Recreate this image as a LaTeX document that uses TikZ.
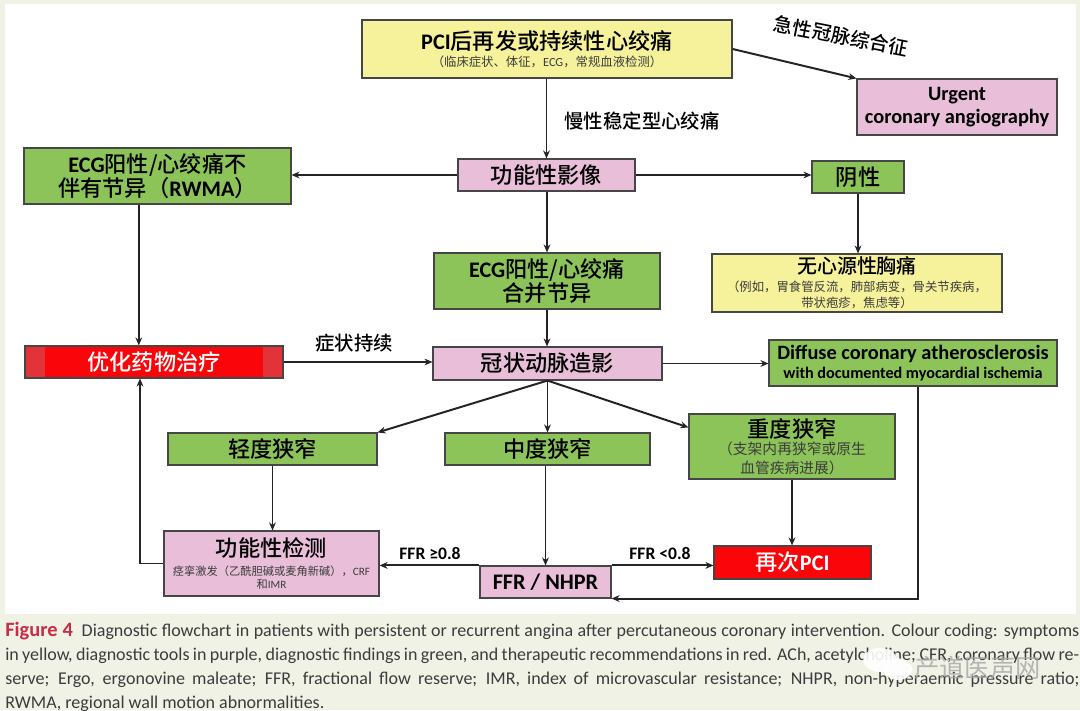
\documentclass[tikz,border=0pt]{standalone}
\usepackage{fontspec}
\setmainfont{Noto Sans CJK SC}[BoldFont={Noto Sans CJK SC Medium}]
\newfontfamily\latfont{Carlito}
\usetikzlibrary{arrows.meta, positioning, calc}
\definecolor{pagebeige}{RGB}{240, 242, 230}
\definecolor{symyellow}{RGB}{245, 242, 155}
\definecolor{toolpurple}{RGB}{232, 190, 216}
\definecolor{findgreen}{RGB}{140, 196, 90}
\definecolor{therred}{RGB}{250, 5, 10}
\definecolor{therside}{RGB}{226, 52, 56}
\definecolor{boxline}{RGB}{70, 70, 70}
\definecolor{linedark}{RGB}{35, 35, 40}
\definecolor{figred}{RGB}{200, 45, 70}
\definecolor{captext}{RGB}{60, 60, 60}
\tikzset{
  >=Stealth,
  flowarrow/.style={-{Stealth[length=2mm, width=1.7mm]}, line width=1.4pt, linedark}
}
\newcommand{\bigtxt}{\fontsize{15.8}{18}\selectfont\bfseries}
\newcommand{\midtxt}{\fontsize{14.5}{18}\selectfont\bfseries}
\newcommand{\subtxt}{\fontsize{8.8}{11}\selectfont\mdseries\color{captext}}
\newcommand{\lat}[1]{{\latfont #1}}
\begin{document}
\begin{tikzpicture}[
    yellowbox/.style={rectangle, draw=boxline, fill=symyellow, line width=0.8pt, font=\bigtxt, align=center, inner sep=0pt},
    purplebox/.style={rectangle, draw=boxline, fill=toolpurple, line width=0.8pt, font=\bigtxt, align=center, inner sep=0pt},
    greenbox/.style={rectangle, draw=boxline, fill=findgreen, line width=0.8pt, font=\bigtxt, align=center, inner sep=0pt},
    redbox/.style={rectangle, draw=boxline, fill=therred, line width=0.8pt, font=\bigtxt, text=white, align=center, inner sep=0pt},
    sidebands/.style={fill=therside, path picture={\fill[therred] ([xshift=0.5cm]path picture bounding box.south west) rectangle ([xshift=-0.5cm]path picture bounding box.north east);}},
    flowlabel/.style={font=\fontsize{13.8}{15}\selectfont\bfseries, inner sep=0pt}
]
    \useasboundingbox (0, 0) rectangle (27, 17.75);
    % Page ground and white panel
    \fill[pagebeige] (0, 0) rectangle (27, 17.75);
    \fill[white] (0.125, 2.4) rectangle (26.9, 17.65);

    % Top row
    \node[yellowbox, minimum width=9.25cm, minimum height=1.45cm] (symptom) at (13.675, 16.525) {\lat{PCI}后再发或持续性心绞痛\\[-6pt]{\subtxt （临床症状、体征，\lat{ECG}，常规血液检测）}};
    \node[purplebox, font=\midtxt, minimum width=5cm, minimum height=1.4cm] (urgent) at (23.925, 15.075) {\raisebox{-2pt}{\latfont\bfseries Urgent}\\[-1.5pt]\raisebox{-2pt}{\latfont\bfseries coronary angiography}};

    % Functional imaging row
    \node[purplebox, minimum width=4.425cm, minimum height=0.8cm] (imaging) at (13.6625, 13.375) {功能性影像};
    \node[greenbox, minimum width=6.675cm, minimum height=1.4cm] (ecgleft) at (3.9375, 13.35) {\lat{ECG}阳性/心绞痛不\\[-1pt]伴有节异（\lat{RWMA}）};
    \node[greenbox, minimum width=2.3cm, minimum height=0.8cm] (negative) at (21.45, 13.325) {阴性};

    % Findings row
    \node[greenbox, minimum width=5.65cm, minimum height=1.4cm] (ecgmid) at (13.675, 10.725) {\lat{ECG}阳性/心绞痛\\[-1pt]合并节异};
    \node[yellowbox, minimum width=7.25cm, minimum height=1.45cm] (noncardiac) at (21.425, 10.675) {{\fontsize{14.2}{15}\selectfont 无心源性胸痛}\\[-5.4pt]{\subtxt （例如，胃食管反流，肺部病变，骨关节疾病，}\\[-6.6pt]{\subtxt 带状疱疹，焦虑等）}};

    % Angiography row
    \node[redbox, sidebands, minimum width=6.45cm, minimum height=0.8cm] (medical) at (3.85, 8.7) {优化药物治疗};
    \node[purplebox, minimum width=5.725cm, minimum height=0.825cm] (angio) at (13.6875, 8.6625) {冠状动脉造影};
    \node[greenbox, font=\midtxt, minimum width=7.2cm, minimum height=1.15cm] (diffuse) at (22.825, 8.675) {\latfont\bfseries Diffuse coronary atherosclerosis\\[-4pt]{\latfont\bfseries\fontsize{11.5}{14}\selectfont with documented myocardial ischemia}};

    % Stenosis row
    \node[greenbox, minimum width=5.225cm, minimum height=0.8cm] (mild) at (6.8125, 6.525) {轻度狭窄};
    \node[greenbox, minimum width=5.125cm, minimum height=0.8cm] (moderate) at (13.6875, 6.525) {中度狭窄};
    \node[greenbox, minimum width=5.15cm, minimum height=1.625cm] (severe) at (19.8, 6.5875) {重度狭窄\\[-6pt]{\fontsize{10.5}{13}\selectfont\mdseries\color{captext}（支架内再狭窄或原生}\\[-4.2pt]{\fontsize{10.5}{13}\selectfont\mdseries\color{captext}血管疾病进展）}};

    % Bottom row
    \node[purplebox, minimum width=5.375cm, minimum height=1.625cm] (functest) at (6.7875, 3.6625) {功能性检测\\[-4.8pt]{\fontsize{8}{10}\selectfont\mdseries\color{captext}痉挛激发（乙酰胆碱或麦角新碱），\lat{CRF}}\\[-8.6pt]{\fontsize{8}{10}\selectfont\mdseries\color{captext}和\lat{IMR}}};
    \node[purplebox, minimum width=3.275cm, minimum height=0.8cm] (ffr) at (13.6375, 3.2) {\latfont\bfseries FFR / NHPR};
    \node[redbox, minimum width=3.925cm, minimum height=0.825cm] (pci) at (19.8125, 3.6875) {再次\lat{\bfseries PCI}};

    % Connector labels
    \node[flowlabel, rotate=-11] (acslabel) at (21.025, 16.85) {急性冠脉综合征};
    \node[flowlabel] (stablelabel) at (16.05, 14.725) {慢性稳定型心绞痛};
    \node[flowlabel] (persistlabel) at (8.85, 9.175) {症状持续};
    \node[flowlabel, font=\fontsize{12.5}{15}\selectfont] (ffrhigh) at (10.75, 3.925) {\latfont\bfseries FFR ≥0.8};
    \node[flowlabel, font=\fontsize{12.5}{15}\selectfont] (ffrlow) at (16.5, 3.925) {\latfont\bfseries FFR <0.8};

    % Helper coordinates for the shared left line and the right return line
    \coordinate (leftline) at (3.47, 0);
    \coordinate (rightline) at (22.95, 0);
    \coordinate (returncorner) at (rightline |- ffr.south);
    \coordinate (feedcorner) at (3.5, 0 |- functest.west);

    % Arrows from the top
    \draw[flowarrow] (symptom.east) -- (urgent.north west);
    \draw[flowarrow] (symptom.south -| imaging) -- (imaging);
    \draw[flowarrow] (imaging.west) -- (imaging.west -| ecgleft.east);
    \draw[flowarrow] (imaging.east) -- (imaging.east -| negative.west);
    \draw[flowarrow] (imaging.south -| ecgmid) -- (ecgmid);
    \draw[flowarrow] (negative) -- (negative |- noncardiac.north);

    % Arrows into the angiography row
    \draw[flowarrow] (leftline |- ecgleft.south) -- (leftline |- medical.north);
    \draw[flowarrow] (ecgmid) -- (ecgmid |- angio.north);
    \draw[flowarrow] (medical.east) -- (medical.east -| angio.west);
    \draw[flowarrow] (angio.east) -- (angio.east -| diffuse.west);

    % Arrows to the stenosis row
    \draw[flowarrow] (angio.south) -- (mild.north east);
    \draw[flowarrow] (angio.south) -- (moderate.north);
    \draw[flowarrow] (angio.south) -- ([yshift=-0.35cm]severe.north west);

    % Arrows to the bottom row
    \draw[flowarrow] (mild) -- (mild |- functest.north);
    \draw[flowarrow] (moderate.south -| ffr) -- (ffr);
    \draw[flowarrow] (severe) -- (severe |- pci.north);
    \draw[flowarrow] (ffr.north west) -- (ffr.north west -| functest.east);
    \draw[flowarrow] (ffr.north east) -- (ffr.north east -| pci.west);
    \draw[flowarrow] (diffuse.south -| returncorner) -- (returncorner) -- (ffr.south east);
    \draw[flowarrow] (functest.west) -- (feedcorner) -- (feedcorner |- medical.south);

    % Caption
    \node[anchor=north west, inner sep=0pt, text width=26.85cm, align=justify, font=\latfont\fontsize{12.8}{17}\selectfont, text=captext] (caption) at (0.125, 2.2) {{\color{figred}\bfseries\fontsize{14.5}{17}\selectfont Figure 4}\ \ Diagnostic flowchart in patients with persistent or recurrent angina after percutaneous coronary intervention. Colour coding: symptoms\linebreak in yellow, diagnostic tools in purple, diagnostic findings in green, and therapeutic recommendations in red. ACh, acetylcholine; CFR, coronary flow re-\linebreak serve; Ergo, ergonovine maleate; FFR, fractional flow reserve; IMR, index of microvascular resistance; NHPR, non-hyperaemic pressure ratio;\linebreak RWMA, regional wall motion abnormalities.};

    % Watermark
    \fill[white, opacity=0.9] (22.0, 1.25) ellipse (0.42 and 0.3);
    \fill[white, opacity=0.9] (22.45, 1.02) ellipse (0.36 and 0.27);
    \node[font=\fontsize{18}{20}\selectfont, text=gray!70, opacity=0.8, inner sep=0pt, anchor=west] (watermark) at (22.85, 1.05) {产道医声网};
\end{tikzpicture}
\end{document}
